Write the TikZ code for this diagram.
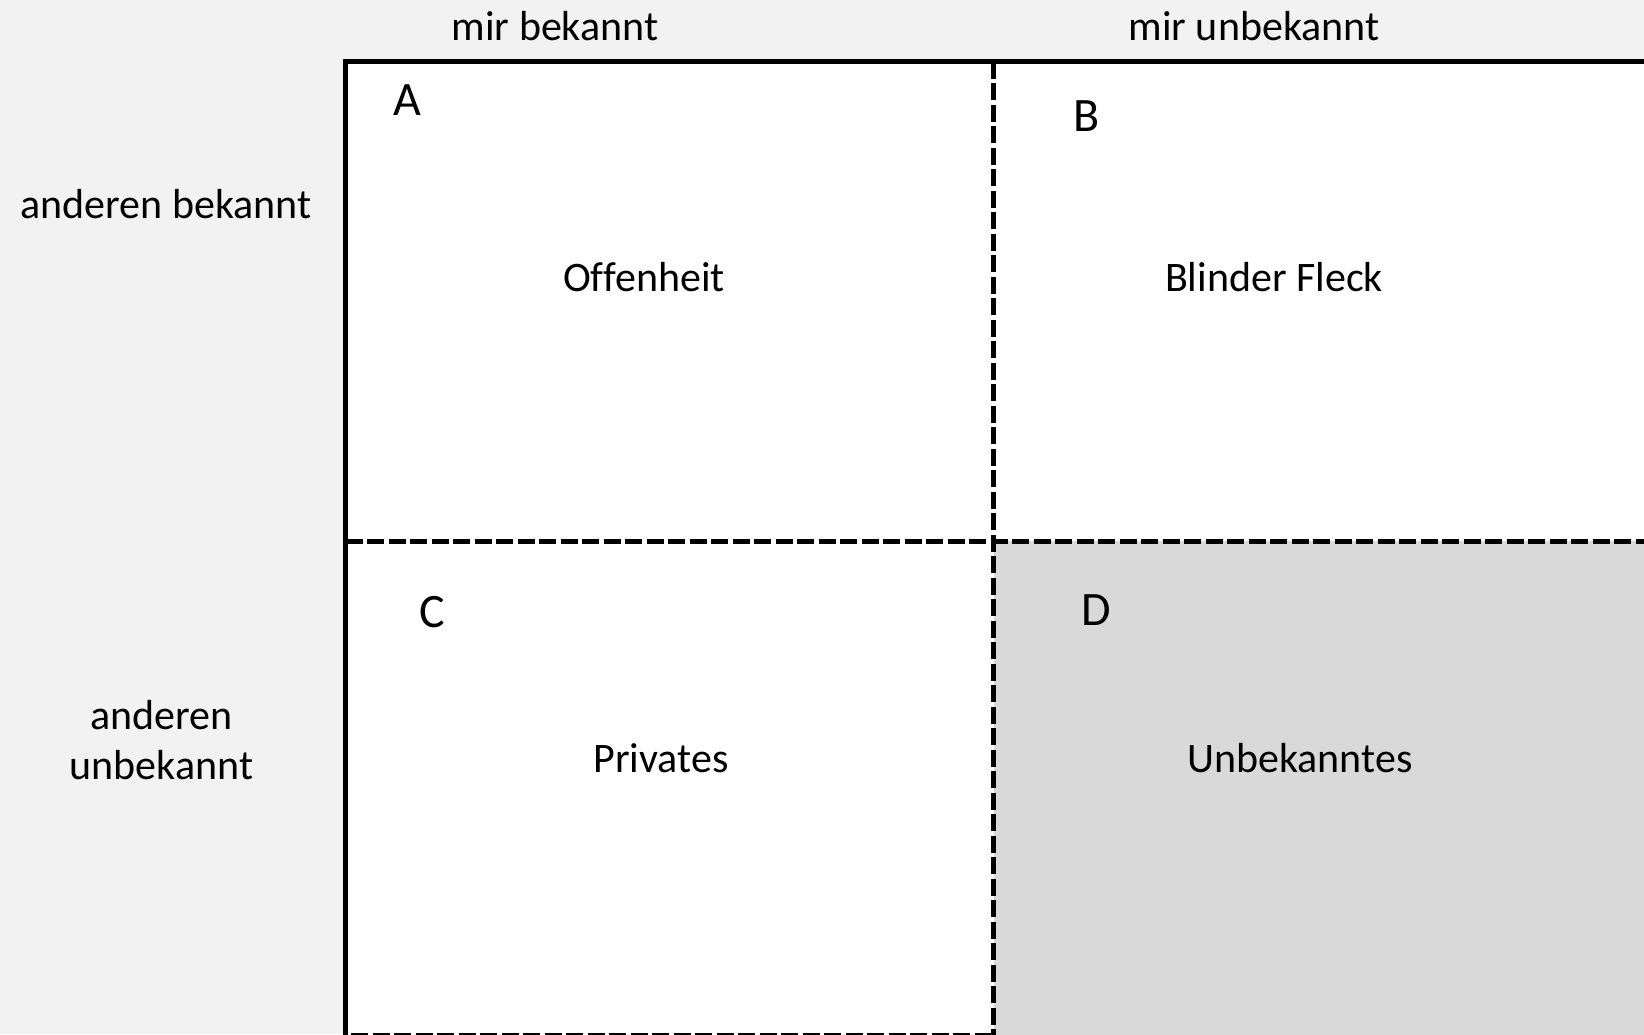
\documentclass[tikz,border=0pt]{standalone}
\usepackage{fontspec}
\setmainfont{Carlito}[Ligatures=NoCommon]
\definecolor{bgcol}{HTML}{F2F2F2}
\definecolor{dcol}{HTML}{D9D9D9}
\tikzset{
  lbl/.style={inner sep=0pt, font=\fontsize{42}{50}\selectfont, align=center},
  letter/.style={inner sep=0pt, font=\fontsize{48}{56}\selectfont},
  frame/.style={line width=5.3pt, black},
  dashline/.style={line width=5.5pt, black, dash pattern=on 17pt off 4.5pt},
}
\begin{document}
\begin{tikzpicture}[x=1pt,y=-1pt]
\useasboundingbox (0,0) rectangle (1644,1034);
\clip (0,0) rectangle (1644,1034);
\fill[bgcol] (0,0) rectangle (1644,1034);
% cells
\fill[white] (345.5,61.5) rectangle (1660,1050);
\fill[dcol] (993.5,541.3) rectangle (1660,1050);
% grid lines
\coordinate (tl) at (345.5,61.5);
\coordinate (tr) at (1660,61.5);
\coordinate (bl) at (345.5,1050);
\coordinate (mt) at (993.5,61.5);
\coordinate (mb) at (993.5,1050);
\coordinate (ml) at (345.5,541.3);
\coordinate (mr) at (1660,541.3);
\coordinate (bbl) at (351,1035.8);
\coordinate (bbr) at (993.5,1035.8);
\draw[dashline] (ml) -- (mr);
\draw[dashline] (bbl) -- (bbr);
\draw[dashline] (mt) -- (mb);
\draw[frame] (bl) -- (tl) -- (tr);
% header labels
\node[lbl] (hmb) at (555,26) {mir bekannt};
\node[lbl] (hmu) at (1254,26) {mir unbekannt};
\node[lbl] (hab) at (166,204) {anderen bekannt};
\node[lbl] (hau) at (161.5,740) {anderen\\unbekannt};
% cell letters
\node[letter] (la) at (407,100.5) {A};
\node[letter] (lb) at (1087,116) {B};
\node[letter] (lc) at (432,612) {C};
\node[letter] (ld) at (1096,610) {D};
% cell texts
\node[lbl] (ta) at (644,277) {Offenheit};
\node[lbl] (tb) at (1274,277) {Blinder Fleck};
\node[lbl] (tc) at (661,758) {Privates};
\node[lbl] (td) at (1300,758) {Unbekanntes};
\end{tikzpicture}
\end{document}
